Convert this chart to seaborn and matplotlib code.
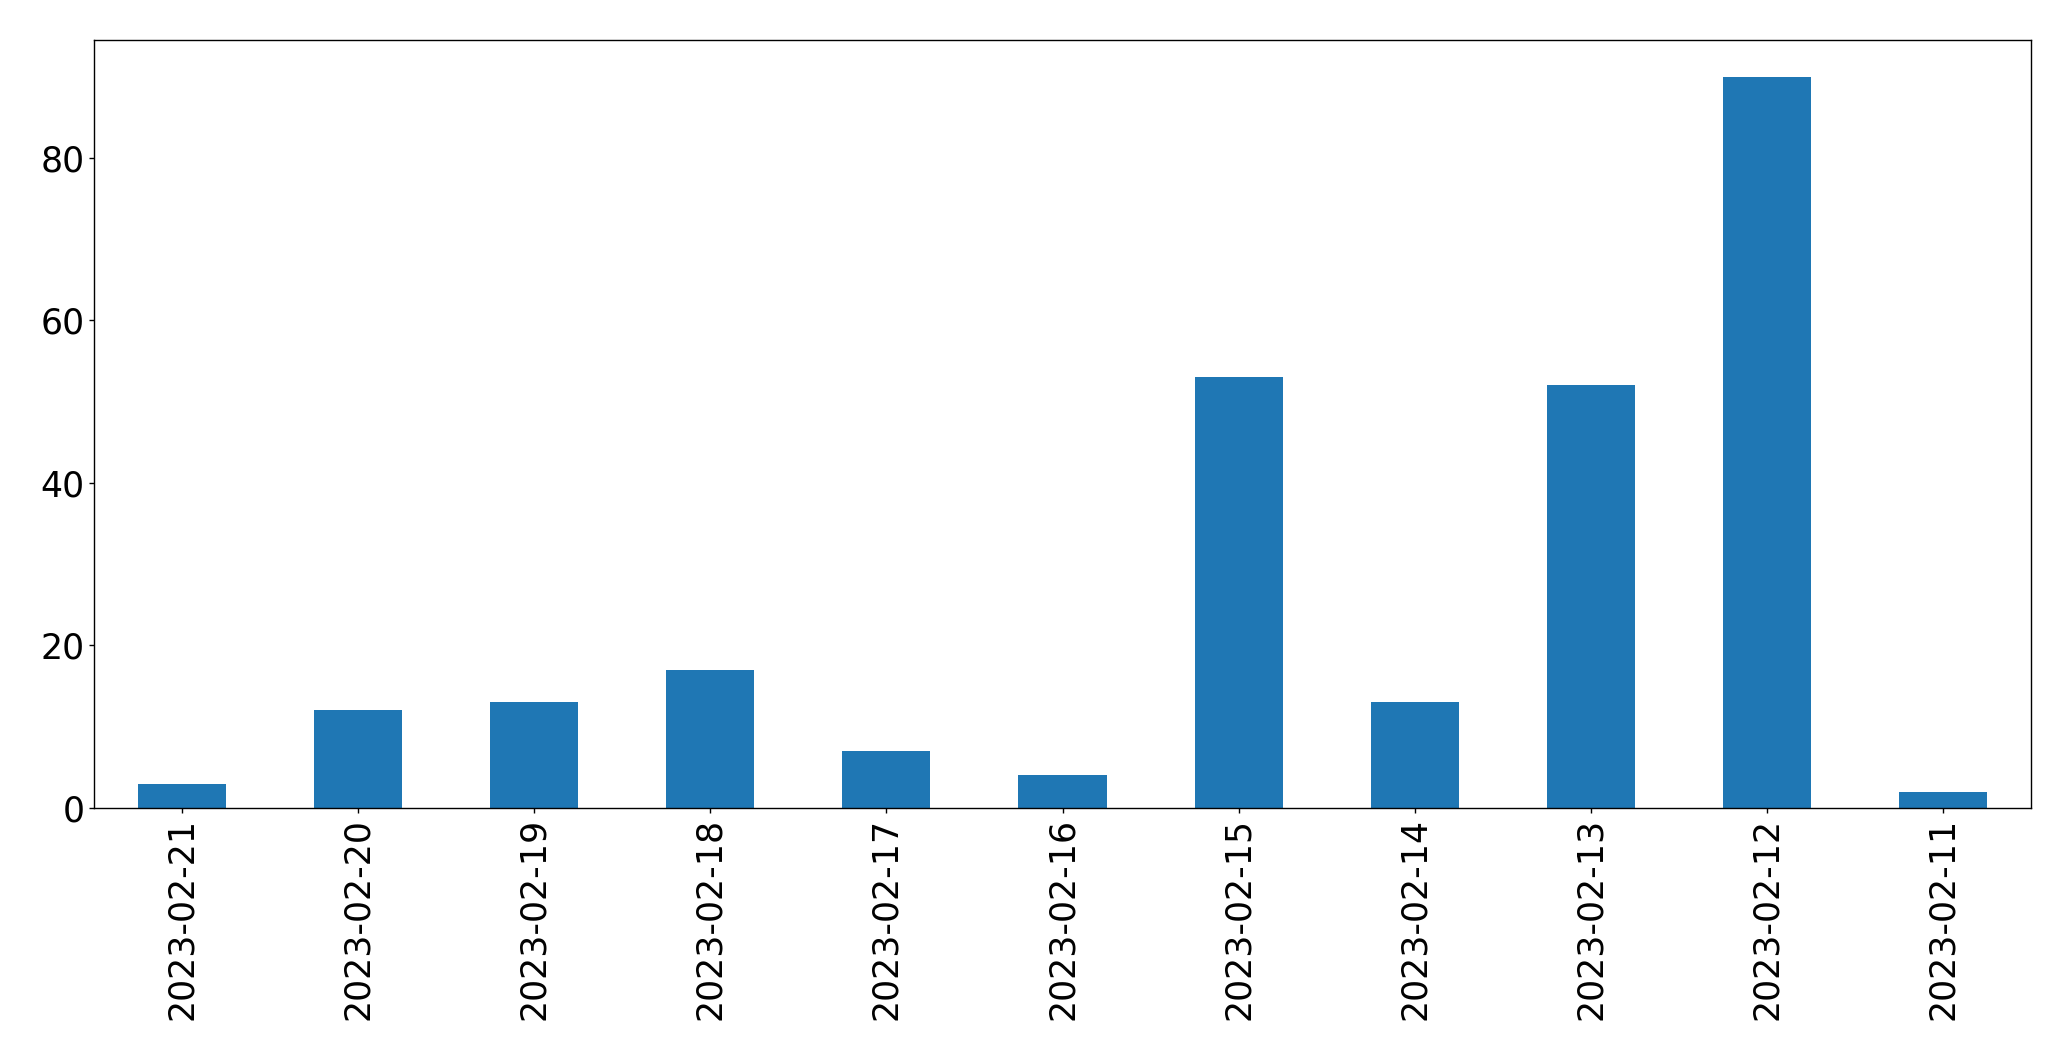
import matplotlib
matplotlib.use("Agg")
import matplotlib.pyplot as plt
import seaborn as sns
import pandas as pd

dates = ["2023-02-21", "2023-02-20", "2023-02-19", "2023-02-18", "2023-02-17",
         "2023-02-16", "2023-02-15", "2023-02-14", "2023-02-13", "2023-02-12",
         "2023-02-11"]
counts = [3, 12, 13, 17, 7, 4, 53, 13, 52, 90, 2]

sns.set_style("ticks")
plt.rcParams['font.family'] = ['DejaVu Sans']

df = pd.DataFrame({"date": dates, "count": counts})

fig = plt.figure(figsize=(20.71, 10.61), dpi=100)
ax = fig.add_axes([94/2071, 1 - 808/1061, (2031-94)/2071, (808-40)/1061])
sns.barplot(data=df, x="date", y="count", order=dates, color="#1f77b4",
            saturation=1, width=0.5, linewidth=0, ax=ax)
ax.set_xlim(-0.5, len(dates) - 0.5)
ax.set_ylim(0, 94.5)
ax.set_xlabel("")
ax.set_ylabel("")
ax.tick_params(axis='both', labelsize=25, length=3.5, width=1,
               colors="black", labelcolor="black")
plt.setp(ax.get_xticklabels(), rotation=90)
for s in ax.spines.values():
    s.set_visible(True)
    s.set_linewidth(1)
    s.set_color("black")
fig.savefig("out.png", dpi=100)
